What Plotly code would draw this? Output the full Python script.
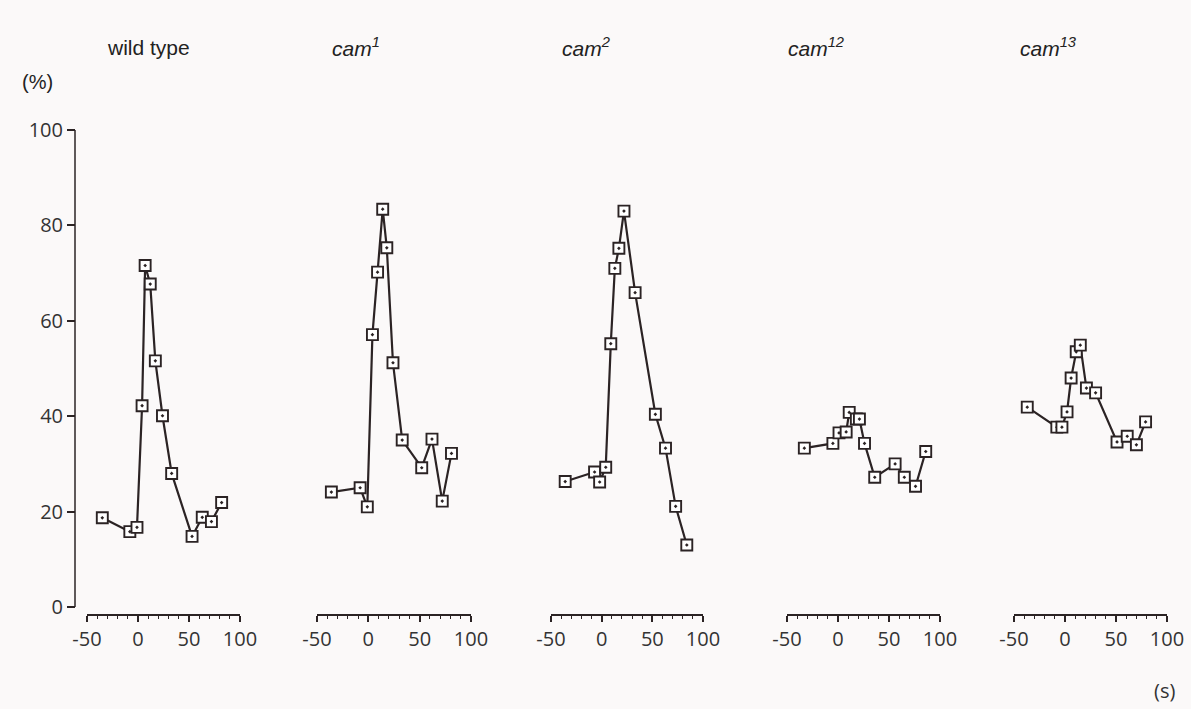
import plotly.graph_objects as go

# ---- data ----
panel_titles = ["wild type", "<i>cam<sup>1</sup></i>", "<i>cam<sup>2</sup></i>",
                "<i>cam<sup>12</sup></i>", "<i>cam<sup>13</sup></i>"]

wt_t = [-35, -8, -1, 4, 7, 12, 17, 24, 33, 53, 63, 72, 82]
wt_v = [18.7, 15.8, 16.7, 42.2, 71.6, 67.7, 51.6, 40.1, 28.0, 14.8, 18.8, 17.9, 21.9]

cam1_t = [-36, -8, -1, 4, 9, 14, 18, 24, 33, 52, 62, 72, 81]
cam1_v = [24.1, 25.0, 21.0, 57.1, 70.2, 83.4, 75.3, 51.2, 35.0, 29.2, 35.2, 22.2, 32.2]

cam2_t = [-36, -7, -2, 4, 9, 13, 17, 22, 33, 53, 63, 73, 84]
cam2_v = [26.3, 28.3, 26.2, 29.3, 55.2, 71.0, 75.2, 83.0, 65.9, 40.4, 33.3, 21.1, 13.0]

cam12_t = [-33, -5, 1, 8, 11, 18, 21, 26, 36, 56, 65, 76, 86]
cam12_v = [33.3, 34.3, 36.5, 36.7, 40.8, 39.4, 39.4, 34.3, 27.2, 30.0, 27.2, 25.3, 32.6]

cam13_t = [-37, -8, -3, 2, 6, 11, 15, 21, 30, 51, 61, 70, 79]
cam13_v = [41.9, 37.7, 37.7, 40.9, 48.0, 53.5, 54.9, 45.9, 44.9, 34.6, 35.8, 34.0, 38.8]

series_t = [wt_t, cam1_t, cam2_t, cam12_t, cam13_t]
series_v = [wt_v, cam1_v, cam2_v, cam12_v, cam13_v]

x_range = [-50, 100]
x_ticks = [-50, 0, 50, 100]
y_ticks = [0, 20, 40, 60, 80, 100]

# ---- layout geometry (pixels) ----
W, H = 1191, 709
ink = "#2b2324"
panel_px = [(87, 240), (317, 471), (551, 703), (787, 940), (1014, 1167)]
title_x = [148, 356, 586, 816, 1048]
y_bottom_px, y_top_px = 614, 130
y0_px = 607
per_unit = (y0_px - y_top_px) / 100.0
y_min = -(y_bottom_px - y0_px) / per_unit
tick_font = dict(family="Open Sans, Lato, sans-serif", size=20, color="#333")

fig = go.Figure()
layout_axes = {}
for i, (t, v) in enumerate(zip(series_t, series_v)):
    xa = "x" if i == 0 else f"x{i+1}"
    fig.add_trace(go.Scatter(
        x=t, y=v, xaxis=xa, yaxis="y", mode="lines+markers",
        line=dict(color=ink, width=2.2),
        marker=dict(symbol="square-dot", size=11, color="white",
                    line=dict(color=ink, width=1.9)),
        showlegend=False, hoverinfo="skip"))
    key = "xaxis" if i == 0 else f"xaxis{i+1}"
    a, b = panel_px[i]
    layout_axes[key] = dict(
        domain=[a / W, b / W], range=x_range, anchor="y", automargin=False,
        showgrid=False, zeroline=False, showline=True, linecolor=ink, linewidth=1.5,
        ticks="outside", ticklen=6, tickwidth=1.5, tickcolor=ink,
        tickvals=x_ticks, ticktext=[str(k) for k in x_ticks],
        minor=dict(dtick=10, tick0=0, ticks="outside", ticklen=3.5, tickwidth=1.3, tickcolor=ink),
        tickfont=tick_font, fixedrange=True)

fig.update_layout(
    width=W, height=H, autosize=False,
    margin=dict(l=0, r=0, t=0, b=0, pad=0, autoexpand=False),
    paper_bgcolor="#fbf9f9", plot_bgcolor="rgba(0,0,0,0)",
    showlegend=False,
    yaxis=dict(
        domain=[1 - y_bottom_px / H, 1 - y_top_px / H], range=[y_min, 100],
        anchor="free", position=75 / W, automargin=False,
        showgrid=False, zeroline=False, showline=False,
        ticks="outside", ticklen=8, tickwidth=1.5, tickcolor=ink,
        tickvals=y_ticks, ticktext=[str(k) for k in y_ticks],
        tickfont=tick_font, fixedrange=True),
    **layout_axes)

# y axis line spanning 0..100 only
fig.add_shape(type="line", xref="paper", yref="y", x0=75 / W, x1=75 / W, y0=0, y1=100,
              line=dict(color=ink, width=1.5))

for tx, txt in zip(title_x, panel_titles):
    fig.add_annotation(x=tx / W, y=1 - 47 / H, xref="paper", yref="paper", text=txt,
                       showarrow=False, xanchor="center", yanchor="middle",
                       font=dict(family="Liberation Sans Narrow, Liberation Sans, sans-serif",
                                 size=21, color="#222"))
fig.add_annotation(x=20 / W, y=1 - 82 / H, xref="paper", yref="paper", text="(%)",
                   showarrow=False, xanchor="left", yanchor="middle",
                   font=dict(family="Liberation Sans Narrow, Liberation Sans, sans-serif",
                             size=20, color="#222"))
fig.add_annotation(x=1164 / W, y=1 - 690 / H, xref="paper", yref="paper", text="(s)",
                   showarrow=False, xanchor="center", yanchor="middle",
                   font=dict(family="Open Sans, Lato, sans-serif", size=20, color="#333"))

fig.write_html("out.html")
